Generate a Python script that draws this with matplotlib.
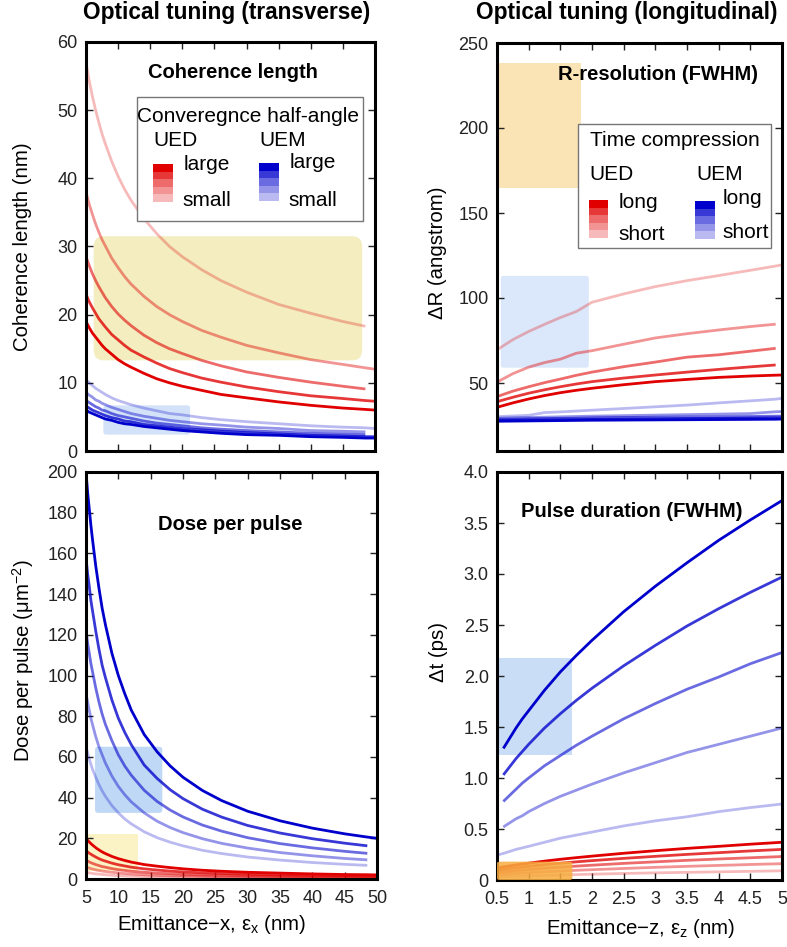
import numpy as np
import matplotlib
matplotlib.use("Agg")
import matplotlib.pyplot as plt
from matplotlib.patches import Rectangle, FancyBboxPatch

plt.rcParams['font.family'] = ['Liberation Sans', 'DejaVu Sans']
plt.rcParams['mathtext.fontset'] = 'custom'
plt.rcParams['mathtext.rm'] = 'Liberation Sans'
plt.rcParams['mathtext.it'] = 'Liberation Sans:italic'
plt.rcParams['mathtext.default'] = 'regular'

# ---------------- data ----------------
# Coherence length (nm) vs emittance-x
ex_coh = [5, 5.5, 6, 6.5, 7, 7.5, 8, 9, 10, 11, 12, 14, 16, 18, 20, 23, 26, 30, 35, 40, 45, 48.5, 50]
coh_ued = [  # dark (large angle) -> light (small angle)
    [19, 18.1, 17.3, 16.7, 16.1, 15.5, 15.0, 14.2, 13.4, 12.8, 12.3, 11.4, 10.6, 10.0, 9.5, 8.9, 8.3, 7.8, 7.2, 6.7, 6.3, 6.1, 6.0],
    [23, 21.9, 21.0, 20.2, 19.4, 18.8, 18.2, 17.1, 16.3, 15.5, 14.8, 13.8, 12.9, 12.1, 11.5, 10.7, 10.1, 9.4, 8.7, 8.1, 7.7, 7.4, 7.3],
    [28.5, 27.2, 26.0, 25.0, 24.1, 23.3, 22.5, 21.2, 20.1, 19.2, 18.4, 17.0, 15.9, 15.0, 14.3, 13.3, 12.5, 11.6, 10.8, 10.1, 9.5, 9.1, np.nan],
    [38, 36.2, 34.7, 33.3, 32.1, 31.0, 30.1, 28.3, 26.9, 25.6, 24.5, 22.7, 21.2, 20.0, 19.0, 17.7, 16.7, 15.5, 14.4, 13.4, 12.7, 12.2, 12.0],
    [57, 54.3, 52.0, 50.0, 48.2, 46.5, 45.1, 42.5, 40.3, 38.4, 36.8, 34.1, 31.9, 30.0, 28.5, 26.6, 25.0, 23.3, 21.5, 20.2, 19.0, 18.3, np.nan],
]
coh_uem = [
    [6.0, 5.7, 5.5, 5.3, 5.1, 4.9, 4.7, 4.5, 4.2, 4.0, 3.9, 3.6, 3.4, 3.2, 3.0, 2.8, 2.6, 2.4, 2.3, 2.1, 2.0, 1.9, 1.9],
    [6.6, 6.3, 6.0, 5.8, 5.6, 5.4, 5.2, 4.9, 4.7, 4.4, 4.3, 3.9, 3.7, 3.5, 3.3, 3.1, 2.9, 2.7, 2.5, 2.3, 2.2, 2.1, 2.1],
    [7.4, 7.1, 6.8, 6.5, 6.3, 6.0, 5.9, 5.5, 5.2, 5.0, 4.8, 4.4, 4.1, 3.9, 3.7, 3.4, 3.2, 3.0, 2.8, 2.6, 2.5, 2.4, np.nan],
    [8.6, 8.2, 7.9, 7.5, 7.3, 7.0, 6.8, 6.4, 6.1, 5.8, 5.5, 5.1, 4.8, 4.5, 4.3, 4.0, 3.8, 3.5, 3.3, 3.0, 2.9, 2.8, np.nan],
    [10.5, 10.0, 9.6, 9.2, 8.9, 8.6, 8.3, 7.8, 7.4, 7.1, 6.8, 6.3, 5.9, 5.5, 5.3, 4.9, 4.6, 4.3, 4.0, 3.7, 3.5, 3.4, 3.3],
]

# Dose per pulse vs emittance-x
ex_dose = [5, 5.25, 5.5, 5.75, 6, 6.5, 7, 7.5, 8, 9, 10, 11, 12, 14, 16, 18, 20, 23, 26, 30, 35, 40, 45, 48.5, 50]
dose_uem = [
    [200, 190, 182, 174, 167, 154, 143, 133, 125, 111, 100, 91, 83, 71, 62.5, 55.6, 50, 43.5, 38.5, 33.3, 28.6, 25, 22.2, 20.6, 20],
    [158, 150, 144, 137, 132, 122, 113, 105, 99, 88, 79, 72, 66, 56, 49.4, 43.9, 39.5, 34.3, 30.4, 26.3, 22.6, 19.8, 17.6, 16.3, np.nan],
    [122, 116, 111, 106, 102, 94, 87, 81, 76, 68, 61, 55.5, 51, 43.6, 38.1, 33.9, 30.5, 26.5, 23.5, 20.3, 17.4, 15.3, 13.6, 12.6, np.nan],
    [91, 87, 83, 79, 76, 70, 65, 61, 57, 50.6, 45.5, 41.4, 37.9, 32.5, 28.4, 25.3, 22.8, 19.8, 17.5, 15.2, 13.0, 11.4, 10.1, 9.4, np.nan],
    [65, 62, 59, 56.5, 54, 50, 46.4, 43.3, 40.6, 36.1, 32.5, 29.5, 27.1, 23.2, 20.3, 18.1, 16.3, 14.1, 12.5, 10.8, 9.3, 8.1, 7.2, 6.7, np.nan],
]
dose_ued = [
    [20, 19.0, 18.2, 17.4, 16.7, 15.4, 14.3, 13.3, 12.5, 11.1, 10, 9.1, 8.3, 7.1, 6.3, 5.6, 5, 4.3, 3.8, 3.3, 2.9, 2.5, 2.2, 2.1, 2.0],
    [14, 13.3, 12.7, 12.2, 11.7, 10.8, 10, 9.3, 8.8, 7.8, 7, 6.4, 5.8, 5, 4.4, 3.9, 3.5, 3.0, 2.7, 2.3, 2.0, 1.8, 1.6, 1.4, 1.4],
    [9.2, 8.8, 8.4, 8.0, 7.7, 7.1, 6.6, 6.1, 5.8, 5.1, 4.6, 4.2, 3.8, 3.3, 2.9, 2.6, 2.3, 2.0, 1.8, 1.5, 1.3, 1.2, 1.0, 0.95, 0.92],
    [5.9, 5.6, 5.4, 5.1, 4.9, 4.5, 4.2, 3.9, 3.7, 3.3, 3.0, 2.7, 2.5, 2.1, 1.8, 1.6, 1.5, 1.3, 1.1, 1.0, 0.84, 0.74, 0.66, 0.61, 0.59],
    [3.3, 3.1, 3.0, 2.9, 2.75, 2.5, 2.4, 2.2, 2.1, 1.8, 1.65, 1.5, 1.4, 1.2, 1.0, 0.92, 0.83, 0.72, 0.63, 0.55, 0.47, 0.41, 0.37, 0.34, 0.33],
]

# R-resolution (angstrom) vs emittance-z
ez_res = [0.5, 0.75, 1, 1.25, 1.5, 1.75, 2, 2.5, 3, 3.5, 4, 4.5, 4.9, 5]
res_ued = [  # dark (long) -> light (short)
    [35.7, 38.3, 40.6, 42.6, 44.3, 45.7, 46.9, 49.0, 50.8, 52.1, 53.3, 54.1, 54.6, 54.7],
    [39, 41.6, 44, 46, 47.8, 49.4, 50.8, 52.9, 54.7, 56.4, 58, 59.5, 60.6, np.nan],
    [42, 45.2, 47.8, 50.2, 52.3, 54.5, 56.4, 59.6, 62.3, 65.2, 66.6, 68.7, 70.4, np.nan],
    [50.5, 55.5, 59.3, 62.0, 64.0, 67.5, 69.0, 72.8, 76.5, 79.0, 81.2, 83.2, 84.6, np.nan],
    [69.5, 75.5, 80.3, 84.5, 88.5, 92.0, 97.5, 102.4, 106.7, 110.2, 113.2, 116.3, 118.8, 119.5],
]
res_uem = [
    [27.5, 27.6, 27.7, 27.8, 27.9, 28.0, 28.1, 28.2, 28.3, 28.4, 28.5, 28.6, 28.7, 28.8],
    [28.0, 28.1, 28.2, 28.3, 28.4, 28.5, 28.6, 28.8, 28.9, 29.1, 29.2, 29.4, 29.5, 29.5],
    [28.6, 28.8, 29.0, 29.1, 29.2, 29.3, 29.5, 29.7, 29.9, 30.0, 30.2, 30.3, 30.5, 30.5],
    [29.3, 29.5, 29.7, 29.9, 30.1, 30.3, 30.5, 30.8, 31.1, 31.4, 31.7, 32.0, 33.1, 33.2],
    [30.2, 30.6, 31.0, 32.6, 33.0, 33.5, 34.0, 35.0, 36.0, 37.0, 38.3, 39.5, 40.5, 41.0],
]

# Pulse duration (ps) vs emittance-z
ez_dur = [0.5, 0.6, 0.7, 0.8, 0.9, 1, 1.25, 1.5, 1.75, 2, 2.5, 3, 3.5, 4, 4.5, 5]
dur_uem = [
    [np.nan, 1.29, 1.39, 1.49, 1.58, 1.66, 1.86, 2.04, 2.20, 2.35, 2.63, 2.88, 3.11, 3.33, 3.53, 3.72],
    [np.nan, 1.03, 1.11, 1.19, 1.26, 1.33, 1.49, 1.63, 1.76, 1.88, 2.10, 2.30, 2.49, 2.66, 2.82, 2.97],
    [np.nan, 0.77, 0.83, 0.89, 0.95, 1.00, 1.12, 1.22, 1.32, 1.41, 1.58, 1.73, 1.87, 1.99, 2.12, 2.23],
    [np.nan, 0.52, 0.56, 0.60, 0.63, 0.67, 0.75, 0.82, 0.88, 0.94, 1.05, 1.15, 1.25, 1.33, 1.41, 1.49],
    [0.245, 0.26, 0.28, 0.30, 0.315, 0.33, 0.37, 0.41, 0.44, 0.47, 0.53, 0.58, 0.62, 0.67, 0.71, 0.745],
]
dur_ued = [
    [0.117, 0.128, 0.138, 0.148, 0.157, 0.165, 0.185, 0.203, 0.219, 0.234, 0.262, 0.287, 0.31, 0.33, 0.351, 0.37],
    [0.095, 0.104, 0.112, 0.12, 0.127, 0.134, 0.15, 0.164, 0.178, 0.19, 0.212, 0.232, 0.251, 0.268, 0.285, 0.30],
    [0.073, 0.08, 0.086, 0.092, 0.098, 0.103, 0.115, 0.126, 0.136, 0.145, 0.163, 0.178, 0.193, 0.206, 0.218, 0.23],
    [0.051, 0.055, 0.06, 0.064, 0.068, 0.072, 0.08, 0.088, 0.095, 0.101, 0.113, 0.124, 0.134, 0.143, 0.152, 0.16],
    [0.028, 0.031, 0.034, 0.036, 0.038, 0.04, 0.045, 0.049, 0.053, 0.057, 0.064, 0.07, 0.075, 0.08, 0.085, 0.09],
]

# ---------------- styling ----------------
W, H = 787, 947
fig = plt.figure(figsize=(W / 100, H / 100), dpi=100)

def fx(x):
    return x / W

def fy(y):
    return 1 - y / H

alphas = [1.0, 0.78, 0.58, 0.42, 0.27]
RED = (0.88, 0.0, 0.0)
BLUE = (0.0, 0.0, 0.80)
reds = [RED + (a,) for a in alphas]
blues = [BLUE + (a,) for a in alphas]

TICKFS = 13
LABFS = 14.7

def make_ax(l, t, r, b):
    ax = fig.add_axes([fx(l), fy(b), fx(r) - fx(l), fy(t) - fy(b)])
    for s in ax.spines.values():
        s.set_linewidth(2.2)
    ax.tick_params(direction='in', top=True, right=True, length=5, width=1,
                   labelsize=TICKFS, colors='#222222')
    ax.tick_params(axis='y', pad=6)
    ax.tick_params(axis='x', pad=8)
    return ax

ax_tl = make_ax(86, 42, 375, 451)
ax_bl = make_ax(86, 472, 377, 879)
ax_tr = make_ax(497, 43, 782, 451)
ax_br = make_ax(497, 472, 782, 880)

LW = 2.0

def draw(ax, x, series, colors):
    for ys, c in zip(series, colors):
        ax.plot(x, ys, color=c, lw=LW, zorder=2, solid_joinstyle='round', solid_capstyle='butt')

# ---- top-left: coherence length ----
ax = ax_tl
ax.add_patch(FancyBboxPatch((6.2, 13.3), 41.8, 18.2, boxstyle='round,pad=0,rounding_size=1.5',
                            fc='#f3edbf', ec='none', zorder=0))
ax.add_patch(FancyBboxPatch((7.7, 2.4), 13.5, 4.3, boxstyle='round,pad=0,rounding_size=0.4',
                            fc='#d3e2f8', ec='none', zorder=0))
draw(ax, ex_coh, coh_ued, reds)
draw(ax, ex_coh, coh_uem, blues)
ax.set_xlim(5, 50)
ax.set_ylim(0, 60)
ax.set_xticks(np.arange(10, 50, 5))
ax.set_xticklabels([])
ax.set_yticks(np.arange(0, 61, 10))
ax.set_ylabel('Coherence length (nm)', fontsize=LABFS)
ax.yaxis.set_label_coords(-0.218, 0.5)
ax.yaxis.label.set_va('center')

# ---- bottom-left: dose per pulse ----
ax = ax_bl
ax.add_patch(FancyBboxPatch((6.4, 32.5), 10.4, 32.5, boxstyle='round,pad=0,rounding_size=0.5',
                            mutation_aspect=3.2, fc='#bed8f5', ec='none', zorder=0))
ax.add_patch(Rectangle((5, 4), 8, 18, fc='#fbf3c6', ec='none', zorder=0))
draw(ax, ex_dose, dose_uem, blues)
draw(ax, ex_dose, dose_ued, reds)
ax.set_xlim(5, 50)
ax.set_ylim(0, 200)
ax.set_xticks(np.arange(5, 51, 5))
ax.set_yticks(np.arange(0, 201, 20))
ax.set_ylabel('Dose per pulse (μm$^{-2}$)', fontsize=LABFS)
ax.yaxis.set_label_coords(-0.2165, 0.536)
ax.yaxis.label.set_va('center')
ax.set_xlabel('Emittance\u2212x, ε$_x$ (nm)', fontsize=LABFS)
ax.xaxis.set_label_coords(0.433, -0.113)
ax.xaxis.label.set_va('center')

# ---- top-right: R-resolution ----
ax = ax_tr
ax.add_patch(Rectangle((0.5, 164.5), 1.33, 73.5, fc='#fae3b4', ec='none', zorder=0))
ax.add_patch(FancyBboxPatch((0.56, 59), 1.39, 54, boxstyle='round,pad=0,rounding_size=0.04',
                            mutation_aspect=35, fc='#dbe7fa', ec='none', zorder=0))
draw(ax, ez_res, res_ued, reds)
draw(ax, ez_res, res_uem, blues)
ax.set_xlim(0.5, 5)
ax.set_ylim(10, 250)
ax.set_xticks(np.arange(1, 5, 0.5))
ax.set_xticklabels([])
ax.set_yticks(np.arange(50, 251, 50))
ax.set_ylabel('ΔR (angstrom)', fontsize=LABFS)
ax.yaxis.set_label_coords(-0.21, 0.485)
ax.yaxis.label.set_va('center')

# ---- bottom-right: pulse duration ----
ax = ax_br
ax.add_patch(Rectangle((0.5, 1.23), 1.19, 0.95, fc='#c9ddf6', ec='none', zorder=0))
draw(ax, ez_dur, dur_uem, blues)
draw(ax, ez_dur, dur_ued, reds)
ax.add_patch(FancyBboxPatch((0.5, 0.0), 1.19, 0.18, boxstyle='round,pad=0,rounding_size=0.05',
                            mutation_aspect=0.3, fc=(0.97, 0.68, 0.25, 0.85), ec='none', zorder=3))
ax.set_xlim(0.5, 5)
ax.set_ylim(0, 4)
ax.set_xticks(np.arange(0.5, 5.01, 0.5))
ax.set_xticklabels(['0.5', '1', '1.5', '2', '2.5', '3', '3.5', '4', '4.5', '5'])
ax.set_yticks(np.arange(0, 4.01, 0.5))
ax.set_yticklabels(['0', '0.5', '1.0', '1.5', '2.0', '2.5', '3.0', '3.5', '4.0'])
ax.set_ylabel('Δt (ps)', fontsize=LABFS)
ax.yaxis.set_label_coords(-0.207, 0.559)
ax.yaxis.label.set_va('center')
ax.set_xlabel('Emittance\u2212z, ε$_z$ (nm)', fontsize=LABFS)
ax.xaxis.set_label_coords(0.505, -0.118)
ax.xaxis.label.set_va('center')

# ---------------- titles ----------------
fig.text(fx(227), fy(13), 'Optical tuning (transverse)', fontsize=16.3, fontweight='bold',
         ha='center', va='center')
fig.text(fx(627), fy(13), 'Optical tuning (longitudinal)', fontsize=16.3, fontweight='bold',
         ha='center', va='center')
PF = 14.5
fig.text(fx(233), fy(73), 'Coherence length', fontsize=PF, fontweight='bold', ha='center', va='center')
fig.text(fx(658), fy(74), 'R-resolution (FWHM)', fontsize=PF, fontweight='bold', ha='center', va='center')
fig.text(fx(230), fy(525), 'Dose per pulse', fontsize=PF, fontweight='bold', ha='center', va='center')
fig.text(fx(632), fy(511), 'Pulse duration (FWHM)', fontsize=PF, fontweight='bold', ha='center', va='center')

# ---------------- custom legends ----------------
def legend_box(x0, y0, x1, y1):
    fig.patches.append(Rectangle((fx(x0), fy(y1)), fx(x1) - fx(x0), fy(y0) - fy(y1),
                                 transform=fig.transFigure, fc='white', ec='#777777', lw=1.0,
                                 zorder=5))

def swatch(x0, y0, x1, y1, colors):
    n = len(colors)
    h = (y1 - y0) / n
    for i, c in enumerate(colors):
        fig.patches.append(Rectangle((fx(x0), fy(y0 + (i + 1) * h)), fx(x1) - fx(x0), h / H,
                                     transform=fig.transFigure, fc=c, ec='none', zorder=6))

LF = 15
# top-left legend
legend_box(137, 97, 363, 221)
fig.text(fx(248), fy(116), 'Converegnce half-angle', fontsize=LF, ha='center', va='center', zorder=7)
fig.text(fx(153), fy(141), 'UED', fontsize=LF, ha='left', va='center', zorder=7)
fig.text(fx(259), fy(141), 'UEM', fontsize=LF, ha='left', va='center', zorder=7)
swatch(153, 164, 173, 202, reds)
swatch(259, 163, 279, 201, blues)
fig.text(fx(184), fy(165), 'large', fontsize=LF, ha='left', va='center', zorder=7)
fig.text(fx(182), fy(201), 'small', fontsize=LF, ha='left', va='center', zorder=7)
fig.text(fx(290), fy(163), 'large', fontsize=LF, ha='left', va='center', zorder=7)
fig.text(fx(288), fy(200), 'small', fontsize=LF, ha='left', va='center', zorder=7)

# top-right legend
legend_box(578, 124, 771, 248)
fig.text(fx(675), fy(140), 'Time compression', fontsize=LF, ha='center', va='center', zorder=7)
fig.text(fx(589), fy(174), 'UED', fontsize=LF, ha='left', va='center', zorder=7)
fig.text(fx(696), fy(174), 'UEM', fontsize=LF, ha='left', va='center', zorder=7)
swatch(589, 200, 608, 238, reds)
swatch(695, 201, 715, 239, blues)
fig.text(fx(619), fy(202), 'long', fontsize=LF, ha='left', va='center', zorder=7)
fig.text(fx(618), fy(234), 'short', fontsize=LF, ha='left', va='center', zorder=7)
fig.text(fx(723), fy(199), 'long', fontsize=LF, ha='left', va='center', zorder=7)
fig.text(fx(722), fy(233), 'short', fontsize=LF, ha='left', va='center', zorder=7)

fig.savefig('out.png', dpi=100)
